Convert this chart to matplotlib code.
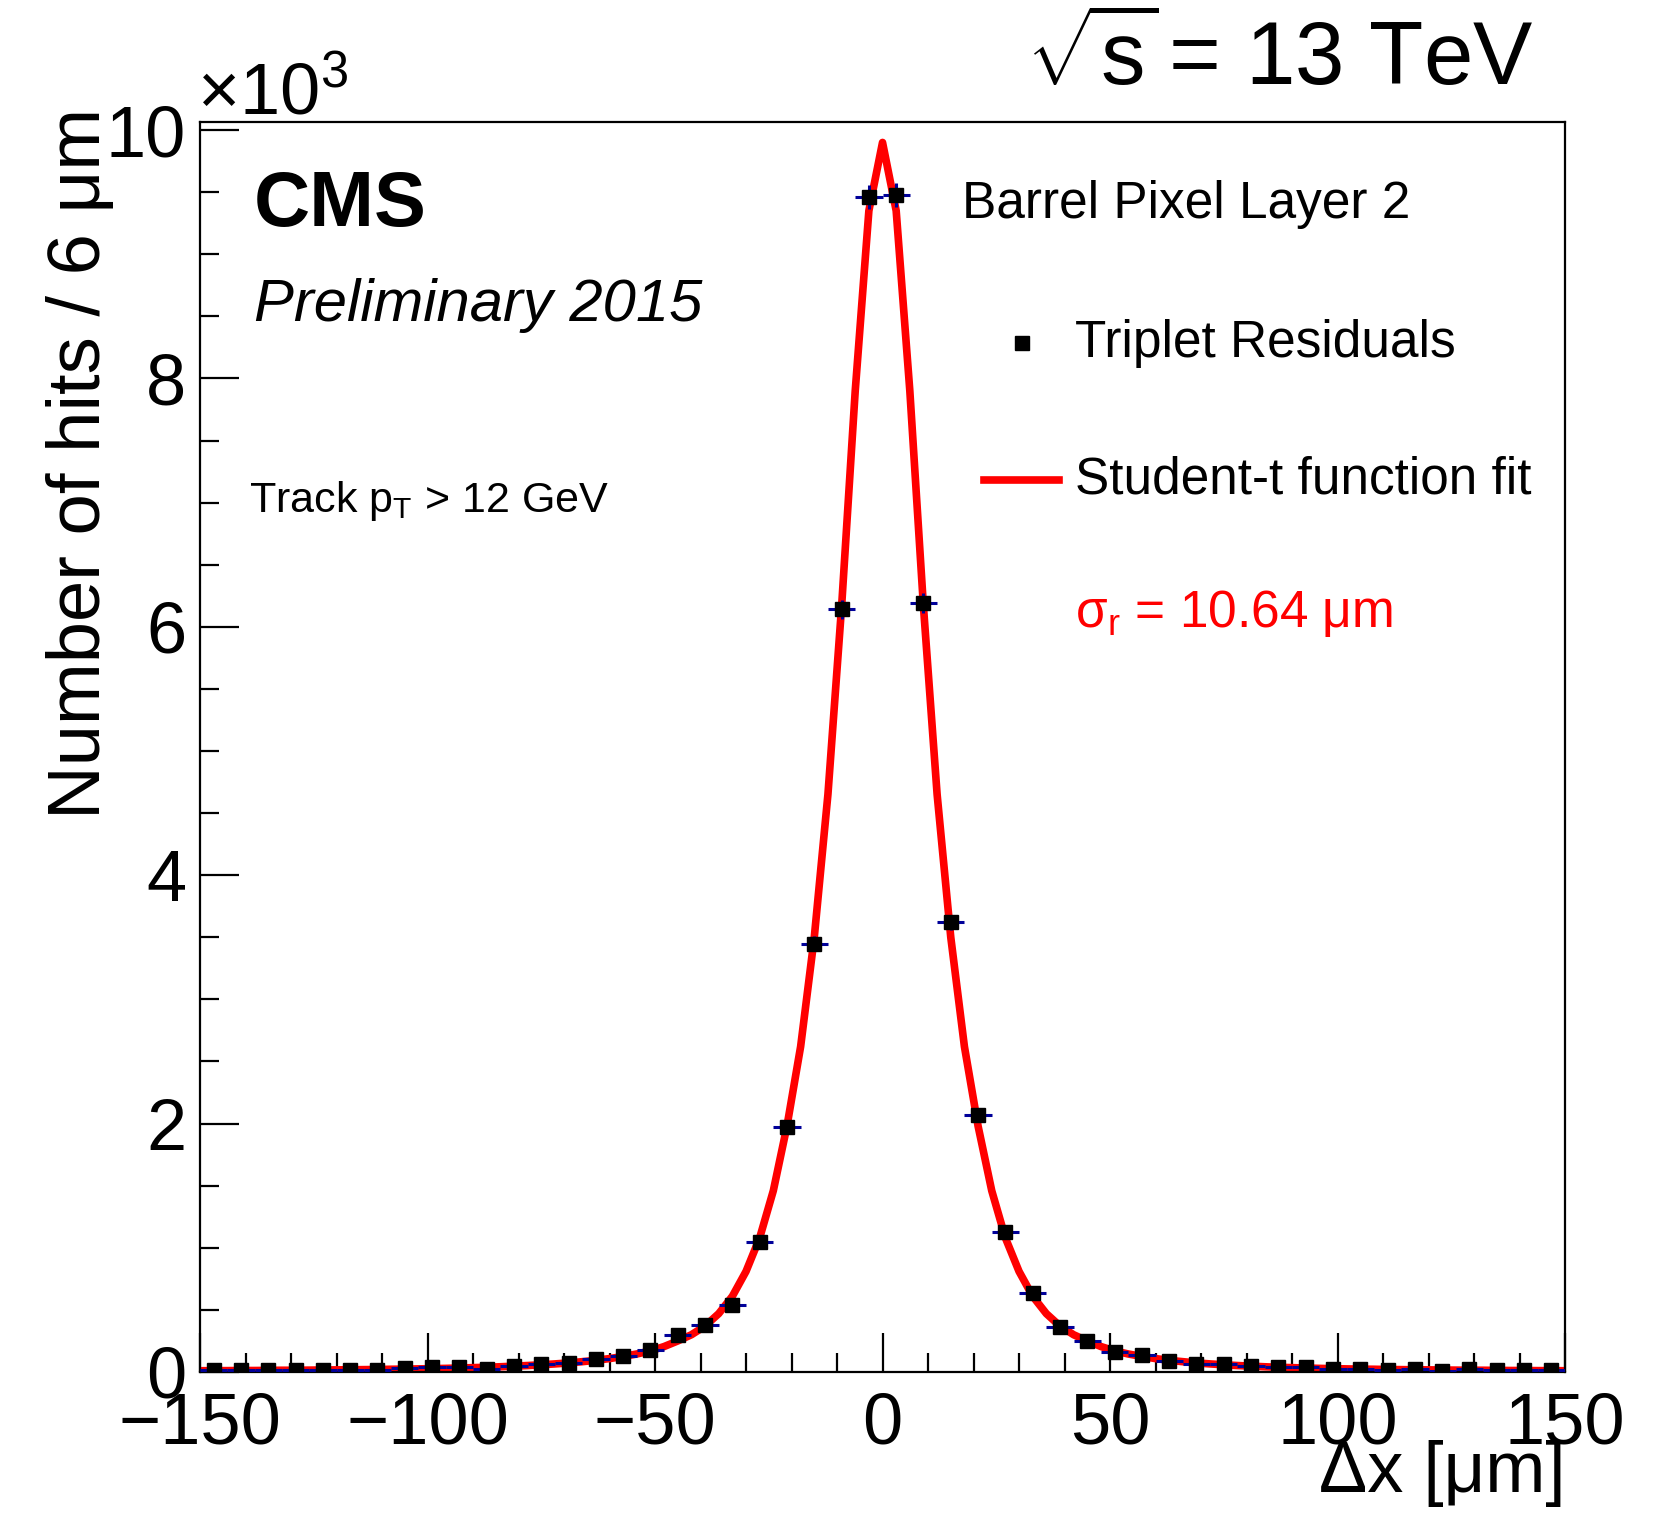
import numpy as np
import matplotlib
matplotlib.use('Agg')
import matplotlib.pyplot as plt
from matplotlib.ticker import MultipleLocator

plt.rcParams['font.family'] = ['Liberation Sans', 'DejaVu Sans']
plt.rcParams['mathtext.fontset'] = 'custom'
plt.rcParams['mathtext.rm'] = 'Liberation Sans'
plt.rcParams['mathtext.it'] = 'Liberation Sans:italic'
plt.rcParams['mathtext.bf'] = 'Liberation Sans:bold'

# bin centres (6 um bins) and hit counts in units of 10^3
bin_centres = np.arange(-147, 148, 6)
hits_k = [
    0.013, 0.019, 0.013, 0.013, 0.013, 0.013, 0.016, 0.032, 0.037, 0.037,
    0.027, 0.046, 0.067, 0.072, 0.104, 0.131, 0.177, 0.300, 0.375, 0.537,
    1.05, 1.97, 3.45, 6.14, 9.46,
    9.48, 6.19, 3.62, 2.07, 1.13, 0.635, 0.360, 0.250, 0.161, 0.140,
    0.089, 0.062, 0.067, 0.046, 0.040, 0.040, 0.021, 0.021, 0.013, 0.021,
    0.011, 0.021, 0.016, 0.016, 0.016,
]

# fit curve as drawn (3 um steps), values for x = 0, 3, ..., 150
fit_half = [
    9.90, 9.35, 7.90, 6.16, 4.65, 3.50, 2.62, 1.98, 1.46, 1.08,
    0.81, 0.61, 0.47, 0.37, 0.30, 0.25, 0.205, 0.170, 0.145, 0.125,
    0.108, 0.094, 0.083, 0.073, 0.065, 0.058, 0.052, 0.047, 0.042, 0.038,
    0.035, 0.032, 0.029, 0.027, 0.025, 0.023, 0.022, 0.020, 0.019, 0.018,
    0.017, 0.016, 0.015, 0.014, 0.014, 0.013, 0.012, 0.012, 0.011, 0.011,
    0.010,
]
fit_x = np.arange(-150, 151, 3)
fit_y = fit_half[::-1] + fit_half[1:]

hits_k = np.array(hits_k)
# Poisson errors on the counts
err_k = np.sqrt(hits_k * 1000) / 1000

fig = plt.figure(figsize=(16.81, 15.13), dpi=100)
ax = fig.add_axes([0.119, 0.0932, 0.812, 0.8262])

ax.plot(fit_x, fit_y, color='red', lw=5.5, zorder=2, solid_joinstyle='round')
ax.errorbar(bin_centres, hits_k, xerr=3, yerr=err_k, fmt='s', color='black',
            markersize=10.5, ecolor=(0, 0, 0.6), elinewidth=2.2, capsize=0, zorder=3)

ax.set_xlim(-150, 150)
ax.set_ylim(0, 10.065)
ax.set_xticks([-150, -100, -50, 0, 50, 100, 150])
ax.set_xticklabels(['\u2212150', '\u2212100', '\u221250', '0', '50', '100', '150'])
ax.xaxis.set_minor_locator(MultipleLocator(10))
ax.yaxis.set_major_locator(MultipleLocator(2))
ax.yaxis.set_minor_locator(MultipleLocator(0.5))
ax.tick_params(which='both', direction='in', top=False, right=False, width=1.6, labelsize=52)
ax.tick_params(which='major', length=28)
ax.tick_params(which='minor', length=14)
ax.tick_params(axis='x', pad=14)
ax.tick_params(axis='y', pad=10)
for s in ax.spines.values():
    s.set_linewidth(1.6)

fig.text(0.048, 0.929, 'Number of hits / 6 \u03bcm', rotation=90, ha='center', va='top', fontsize=53.5)
fig.text(0.931, 0.026, '\u0394x [\u03bcm]', ha='right', va='center', fontsize=52)
fig.text(0.117, 0.925, r'$\times10^{3}$', ha='left', va='baseline', fontsize=52)
fig.text(0.912, 0.96, r'$\sqrt{\mathrm{s}}\,$= 13 TeV', ha='right', va='center', fontsize=64)

ax.text(0.0396, 0.933, 'CMS', transform=ax.transAxes, fontsize=56, fontweight='bold', va='center')
ax.text(0.0396, 0.853, 'Preliminary 2015', transform=ax.transAxes, fontsize=43, style='italic', va='center')
ax.text(0.036, 0.688, r'Track p$_\mathrm{T}$ > 12 GeV', transform=ax.transAxes, fontsize=31, va='baseline')

ax.text(0.558, 0.934, 'Barrel Pixel Layer 2', transform=ax.transAxes, fontsize=37, va='center')
ax.plot([0.602], [0.823], 's', color='black', markersize=10.5, transform=ax.transAxes, clip_on=False)
ax.text(0.641, 0.823, 'Triplet Residuals', transform=ax.transAxes, fontsize=37, va='center')
ax.plot([0.574, 0.629], [0.7136, 0.7136], color='red', lw=5.5, transform=ax.transAxes, clip_on=False)
ax.text(0.641, 0.7136, 'Student-t function fit', transform=ax.transAxes, fontsize=37, va='center')
ax.text(0.641, 0.607, '\u03c3$_\\mathrm{r}$ = 10.64 \u03bcm', transform=ax.transAxes, fontsize=37,
        va='center', color='red')

fig.savefig('out.png', dpi=100)
